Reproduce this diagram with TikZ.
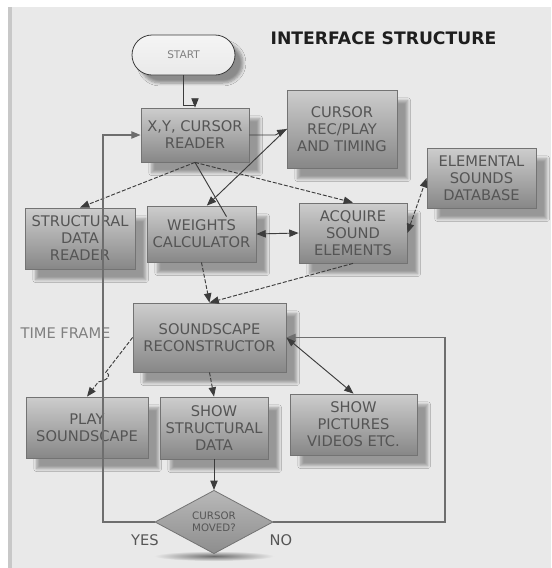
\documentclass[tikz,border=0pt]{standalone}
\usepackage{fontspec}
\setmainfont{DejaVu Sans}
\usepackage{tikz}
\usetikzlibrary{arrows.meta}
\usetikzlibrary{shapes}
\usetikzlibrary{shadows.blur}
\usetikzlibrary{calc}

\definecolor{bggray}{RGB}{233,233,233}
\definecolor{stripgray}{RGB}{200,200,200}
\definecolor{edgegray}{RGB}{115,115,115}
\definecolor{boxtop}{RGB}{205,205,205}
\definecolor{boxbot}{RGB}{135,135,135}
\definecolor{txtgray}{RGB}{85,85,85}
\definecolor{linegray}{RGB}{60,60,60}
\definecolor{loopgray}{RGB}{110,110,110}

\begin{document}
\begin{tikzpicture}[x=0.75pt,y=0.75pt,yscale=-1,xscale=1,
  >={Triangle[length=7pt,width=5.5pt]},
  box/.style 2 args={draw=edgegray, line width=0.6pt, top color=boxtop, bottom color=boxbot,
    text=txtgray, align=center, inner sep=0pt, minimum width=#1, minimum height=#2,
    font=\fontsize{11}{12.75}\selectfont,
    blur shadow={shadow xshift=8pt, shadow yshift=-8pt, shadow opacity=35, shadow blur steps=6}},
  startbox/.style={draw=linegray, line width=0.6pt, top color=white!96!black, bottom color=bggray,
    rounded corners=15pt, minimum width=77.25pt, minimum height=30pt, inner sep=0pt,
    text=gray, font=\fontsize{7.9}{9}\selectfont,
    blur shadow={shadow xshift=6pt, shadow yshift=-6pt, shadow opacity=40, shadow blur steps=6}},
  askbox/.style={diamond, draw=edgegray, line width=0.6pt, top color=boxtop!90!black, bottom color=boxbot!95,
    minimum width=88.5pt, minimum height=38.25pt, inner sep=0pt, align=center,
    text=txtgray, font=\fontsize{7.7}{9}\selectfont},
  lbl/.style={text=txtgray, inner sep=0.75pt, font=\fontsize{11}{13}\selectfont},
  line/.style={draw=linegray, line width=0.7pt},
  dline/.style={draw=linegray, line width=0.7pt, dash pattern=on 3pt off 1.3pt},
  loop/.style={draw=loopgray, line width=1pt}]
\useasboundingbox (0,0) rectangle (551,568);

%Shape: Background
\fill[white] (0,0) rectangle (551,568);
\fill[bggray] (8,7) rectangle (551,568);
\fill[stripgray] (8,7) rectangle (12,568);

% Text Node
\draw (383.5,38.5) node [inner sep=0.75pt, text={rgb,255:red,30;green,30;blue,30}, font=\fontsize{12.9}{15}\bfseries\selectfont] (title) {INTERFACE STRUCTURE};

%Shape: Rounded Rectangle
\draw (183.5,55) node [startbox] (start) {START};

%Shape: Rectangle
\draw (195,135) node [box={81pt}{40.5pt}] (xy) {X,Y, CURSOR\\READER};
%Shape: Rectangle
\draw (342,129) node [box={82.5pt}{58.5pt}] (rec) {CURSOR\\REC/PLAY\\AND TIMING};
%Shape: Rectangle
\draw (481.5,178) node [box={81.75pt}{45pt}] (elem) {ELEMENTAL\\SOUNDS\\DATABASE};
%Shape: Rectangle
\draw (80,238.5) node [box={82.5pt}{45.75pt}] (sdr) {STRUCTURAL\\DATA\\READER};
%Shape: Rectangle
\draw (201.5,234) node [box={81.75pt}{42pt}] (weights) {WEIGHTS\\CALCULATOR};
%Shape: Rectangle
\draw (353,233) node [box={81pt}{45pt}] (acquire) {ACQUIRE\\SOUND\\ELEMENTS};
%Shape: Rectangle
\draw (209.5,337.5) node [box={114.75pt}{51.75pt}] (recon) {SOUNDSCAPE\\RECONSTRUCTOR};
%Shape: Rectangle
\draw (87,427.5) node [box={91.5pt}{45.75pt}] (play) {PLAY\\SOUNDSCAPE};
%Shape: Rectangle
\draw (214,428) node [box={81pt}{46.5pt}] (showsd) {SHOW\\STRUCTURAL\\DATA};
%Shape: Rectangle
\draw (353.5,424.5) node [box={95.25pt}{45.75pt}] (showpic) {SHOW\\PICTURES\\VIDEOS ETC.};

%Shape: Diamond shadow
\shade[inner color=gray!85!black, outer color=bggray] (214,556) ellipse [x radius=60, y radius=5];
%Shape: Diamond
\draw (214,522) node [askbox] (cm) {CURSOR\\MOVED?};

% Text Node
\draw (65.5,333) node [lbl, text=gray] (tf) {TIME FRAME};
% Text Node
\draw (145,540) node [lbl] (yes) {YES};
% Text Node
\draw (281,540) node [lbl] (no) {NO};

\coordinate (yesturn) at (103,522);
\coordinate (noturn) at (445,522);

%Straight Lines
\draw[line,->] (start.south) -- ++(0,30) -| (xy.north);
\draw[line,->] (xy.east) -- ++(26,0) -- (rec.west);
\draw[dline,->] (xy.south) -- (sdr.north);
\draw[dline,->] (xy.south) -- (acquire.north);
\draw[line] (xy.south) -- ($(weights.north)+(25,11)$);
\draw[line,->] (rec.west) -- ([xshift=4pt]weights.north);
\draw[line,<->] (weights.east) -- (acquire.west);
\draw[dline,<->] (acquire.east) -- (elem.west);
\draw[dline,->] (weights.south) -- (recon.north);
\draw[dline,->] (acquire.south) -- (recon.north);
\draw[dline,->] (recon.south) -- (showsd.north);
\draw[line,<->] (recon.east) -- (showpic.north);
\draw[line,->] (showsd.south) -- (cm.north);

%Loops
\draw[loop,->] (cm.west) -- (yesturn) |- (xy.west);
\draw[loop,->] (cm.east) -- (noturn) |- (recon.east);

%Line with jump
\draw[dline,->] (recon.west) -- ($(recon.west)!0.59!(play.north)$)
  .. controls +(7,3) and +(8,-1) .. ($(recon.west)!0.75!(play.north)$) -- (play.north);

\end{tikzpicture}
\end{document}
